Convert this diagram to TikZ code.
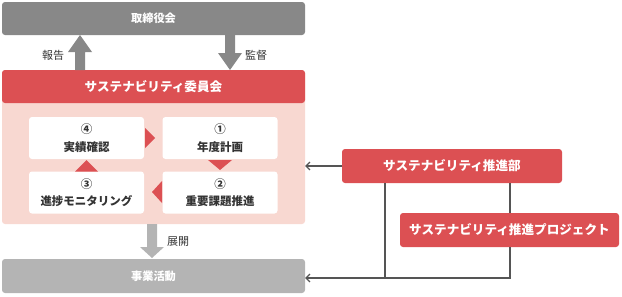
\documentclass[tikz,border=0pt]{standalone}
\usepackage{fontspec}
\setmainfont{Noto Sans CJK JP}
\usetikzlibrary{arrows.meta}
\definecolor{redbox}{HTML}{DC5053}
\definecolor{pinkpanel}{HTML}{F8D8D1}
\definecolor{darkgray}{HTML}{888888}
\definecolor{lightgray}{HTML}{B4B4B4}
\definecolor{linegray}{HTML}{555555}
\definecolor{txtgray}{HTML}{333333}
\tikzset{
  box/.style={rounded corners=3pt, inner sep=0pt, align=center, font=\bfseries\fontsize{11.2}{13}\selectfont},
  graybox/.style={box, fill=darkgray, text=white},
  actbox/.style={box, fill=lightgray, text=white},
  redhead/.style={box, fill=redbox, text=white, font=\bfseries\fontsize{12.6}{14}\selectfont},
  whitebox/.style={box, fill=white, text=txtgray, minimum width=115pt, minimum height=42pt, font=\bfseries\fontsize{11.5}{17.5}\selectfont},
  tri/.style={fill=redbox},
  fatarrow/.style={fill=darkgray},
  lbl/.style={inner sep=0pt, text=txtgray, font=\fontsize{11}{12}\selectfont},
  conn/.style={draw=linegray, line width=1.2pt},
  tip/.style={-{Straight Barb[length=4pt,width=8pt,line width=1.1pt]}}
}
\begin{document}
\begin{tikzpicture}[x=1pt,y=-1pt]
\useasboundingbox (0,0) rectangle (622,297);
% board
\node[graybox, minimum width=303pt, minimum height=33pt] (board) at (153.5,18.5) {取締役会};
% committee panel
\node[box, fill=pinkpanel, minimum width=303pt, minimum height=154pt] (panel) at (153.5,147) {};
\node[redhead, minimum width=303pt, minimum height=33pt] (comm) at (153.5,86.5) {サステナビリティ委員会};
% inner boxes
\node[whitebox] (s4) at (86.5,138) {④\\実績確認};
\node[whitebox] (s1) at (220,138) {①\\年度計画};
\node[whitebox] (s3) at (86.5,192.5) {③\\進捗モニタリング};
\node[whitebox] (s2) at (220,192.5) {②\\重要課題推進};
% cycle triangles
\fill[tri] (145,128) -- (155,138) -- (145,148) -- cycle;
\fill[tri] (208,160) -- (232,160) -- (220,170) -- cycle;
\fill[tri] (162,181) -- (152,192) -- (162,203) -- cycle;
\fill[tri] (75,171.5) -- (98,171.5) -- (86.5,160) -- cycle;
% report / supervise arrows
\fill[fatarrow] (75,70) -- (75,52) -- (68,52) -- (80,35) -- (92,52) -- (85,52) -- (85,70) -- cycle;
\node[lbl] (rep) at (53,55) {報告};
\fill[fatarrow] (225,35) -- (225,53) -- (218,53) -- (230,70) -- (242,53) -- (235,53) -- (235,35) -- cycle;
\node[lbl] (sup) at (256,55) {監督};
% business activity
\node[actbox, minimum width=303pt, minimum height=34pt] (act) at (153.5,276) {事業活動};
\fill[lightgray] (147,224) -- (147,247) -- (140,247) -- (152,258) -- (164,247) -- (157,247) -- (157,224) -- cycle;
\node[lbl] (dev) at (178,242) {展開};
% promotion
\node[redhead, minimum width=220pt, minimum height=34pt] (sb) at (452,166) {サステナビリティ推進部};
\node[redhead, minimum width=219pt, minimum height=34pt] (pj) at (509.5,230) {サステナビリティ推進プロジェクト};
\coordinate (j1) at (385,278);
\coordinate (j2) at (510,278);
\draw[conn, tip] (sb.west) -- (sb.west -| panel.east);
\draw[conn] (sb.south -| j1) -- (j1);
\draw[conn] (sb.south -| j2) -- (pj.north -| j2);
\draw[conn, tip] (pj.south -| j2) -- (j2) -- (act.east |- j2);
\end{tikzpicture}
\end{document}
